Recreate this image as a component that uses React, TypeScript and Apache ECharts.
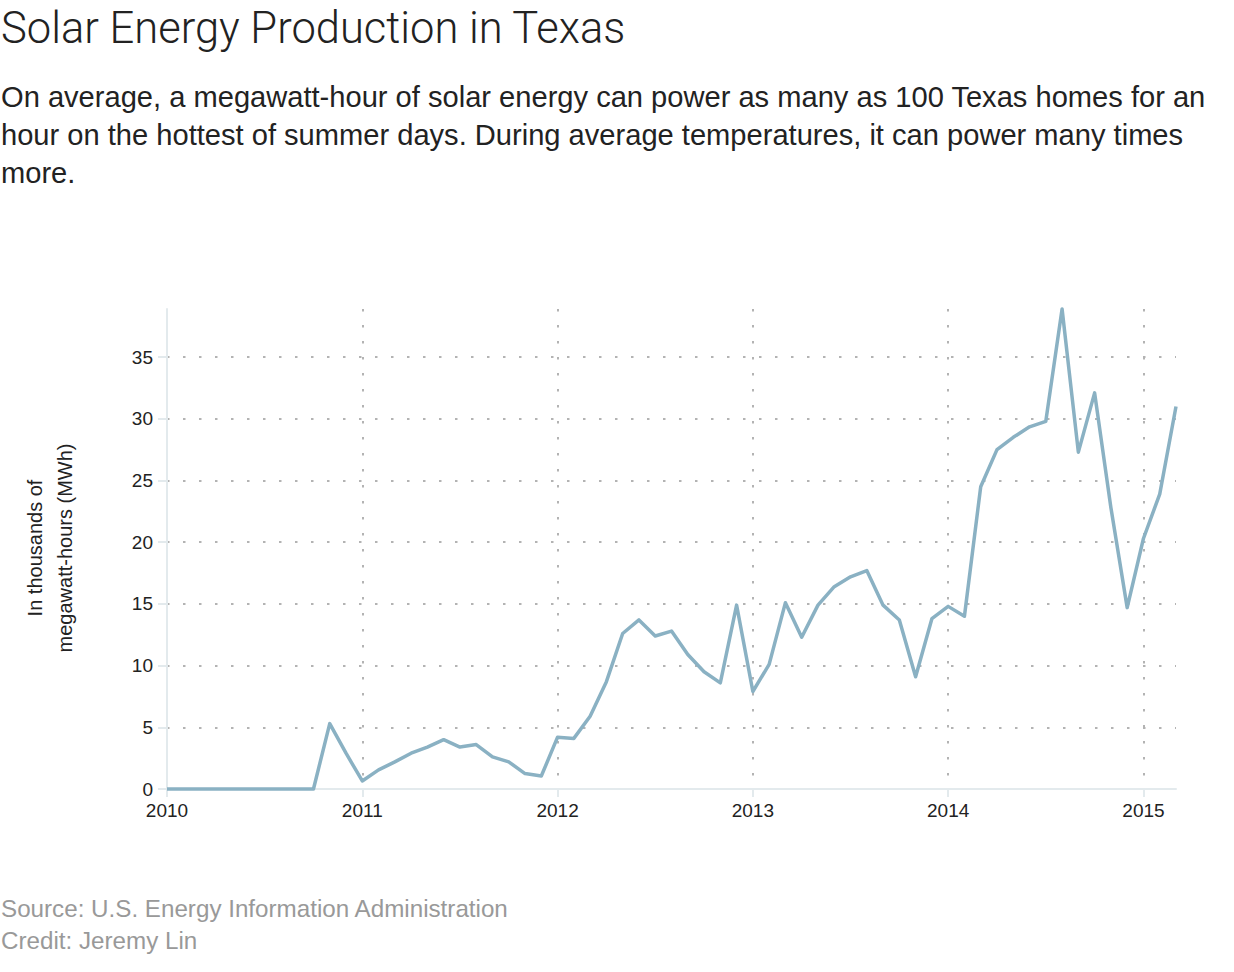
import React, { useEffect, useRef } from "react";
import * as echarts from "echarts";

const startYear = 2010;
const yearTicks = ["2010", "2011", "2012", "2013", "2014", "2015"];
const monthNames = ["Jan", "Feb", "Mar", "Apr", "May", "Jun", "Jul", "Aug", "Sep", "Oct", "Nov", "Dec"];

// Monthly solar production, thousands of MWh, Jan 2010 – Mar 2015
const values2010 = [0, 0, 0, 0, 0, 0, 0, 0, 0, 0, 5.3, 2.9];
const values2011 = [0.65, 1.55, 2.2, 2.9, 3.4, 4.0, 3.4, 3.6, 2.6, 2.2, 1.25, 1.05];
const values2012 = [4.2, 4.1, 5.9, 8.7, 12.6, 13.7, 12.4, 12.8, 10.9, 9.5, 8.6, 14.9];
const values2013 = [7.9, 10.1, 15.1, 12.3, 14.9, 16.4, 17.2, 17.7, 14.9, 13.7, 9.1, 13.8];
const values2014 = [14.8, 14.0, 24.5, 27.5, 28.5, 29.35, 29.8, 38.9, 27.3, 32.1, 22.8, 14.7];
const values2015 = [20.3, 23.9, 31.0];

const yTickLabels = ["0", "5", "10", "15", "20", "25", "30", "35"];

const titleText = "Solar Energy Production in Texas";
const subtitleLines = [
  "On average, a megawatt-hour of solar energy can power as many as 100 Texas homes for an",
  "hour on the hottest of summer days. During average temperatures, it can power many times",
  "more.",
];
const yAxisTitleLines = ["In thousands of", "megawatt-hours (MWh)"];
const footerLines = ["Source: U.S. Energy Information Administration", "Credit: Jeremy Lin"];

const allValues = [...values2010, ...values2011, ...values2012, ...values2013, ...values2014, ...values2015];
const monthLabels = allValues.map(
  (_, i) => `${monthNames[i % 12]} ${startYear + Math.floor(i / 12)}`
);

const FONT = "'Helvetica Neue', Helvetica, 'Liberation Sans', Arial, sans-serif";

export default function App() {
  const ref = useRef<HTMLDivElement>(null);

  useEffect(() => {
    if (!ref.current) return;
    const chart = echarts.init(ref.current, undefined, { renderer: "svg" });
    const lineColor = "#8ab1c3";
    const axisColor = "#e3eaed";
    const gridColor = "#b3b3b3";
    chart.setOption({
      animation: false,
      backgroundColor: "#ffffff",
      title: [
        {
          text: titleText,
          left: 1,
          top: 5,
          padding: 0,
          textStyle: { fontFamily: "Roboto", fontWeight: 300, fontSize: 43.5, color: "#222222", lineHeight: 46 },
        },
        {
          text: subtitleLines.join("\n"),
          left: 1,
          top: 78,
          padding: 0,
          textStyle: { fontFamily: FONT, fontWeight: "normal", fontSize: 29.1, color: "#222222", lineHeight: 38 },
        },
        {
          text: footerLines.join("\n"),
          left: 1,
          top: 892,
          padding: 0,
          textStyle: { fontFamily: FONT, fontWeight: "normal", fontSize: 24.2, color: "#999999", lineHeight: 32 },
        },
      ],
      graphic: [
        {
          type: "text",
          x: 50,
          y: 548,
          rotation: Math.PI / 2,
          style: {
            text: yAxisTitleLines.join("\n"),
            fontFamily: FONT,
            fontSize: 20,
            lineHeight: 30,
            fill: "#222222",
            align: "center",
            verticalAlign: "middle",
          },
        },
      ],
      grid: { left: 167, right: 58, top: 309, bottom: 183, containLabel: false },
      tooltip: { show: false },
      xAxis: {
        type: "value",
        min: 0,
        max: allValues.length - 1,
        interval: 12,
        axisLine: { show: true, lineStyle: { color: axisColor, width: 2 } },
        axisTick: { show: true, length: 8, lineStyle: { color: axisColor, width: 2 } },
        axisLabel: {
          margin: 12,
          fontFamily: FONT,
          fontSize: 19,
          color: "#222222",
          showMaxLabel: false,
          formatter: (v: number) => yearTicks[Math.round(v / 12)] ?? "",
        },
        splitLine: {
          show: true,
          showMinLine: true,
          showMaxLine: false,
          lineStyle: { color: gridColor, width: 2, type: [2.5, 13.5] },
        },
      },
      yAxis: {
        type: "value",
        min: 0,
        max: "dataMax",
        interval: 5,
        axisLine: { show: true, lineStyle: { color: axisColor, width: 2 } },
        axisTick: { show: true, length: 9, lineStyle: { color: axisColor, width: 2 } },
        axisLabel: {
          margin: 14,
          fontFamily: FONT,
          fontSize: 19,
          color: "#222222",
          showMaxLabel: false,
          formatter: (v: number) => yTickLabels[Math.round(v / 5)] ?? "",
        },
        splitLine: {
          show: true,
          showMinLine: false,
          showMaxLine: false,
          lineStyle: { color: gridColor, width: 2, type: [2.5, 13.5] },
        },
      },
      series: [
        {
          type: "line",
          name: "Solar production",
          data: allValues.map((v, i) => [i, v, monthLabels[i]]),
          showSymbol: false,
          symbol: "none",
          smooth: false,
          lineStyle: { color: lineColor, width: 3.5, join: "round" },
          clip: false,
        },
      ],
    });
    return () => chart.dispose();
  }, []);

  return (
    <div
      ref={ref}
      style={{ position: "absolute", left: 0, top: 0, width: 1234, height: 972, background: "#fff" }}
    />
  );
}
